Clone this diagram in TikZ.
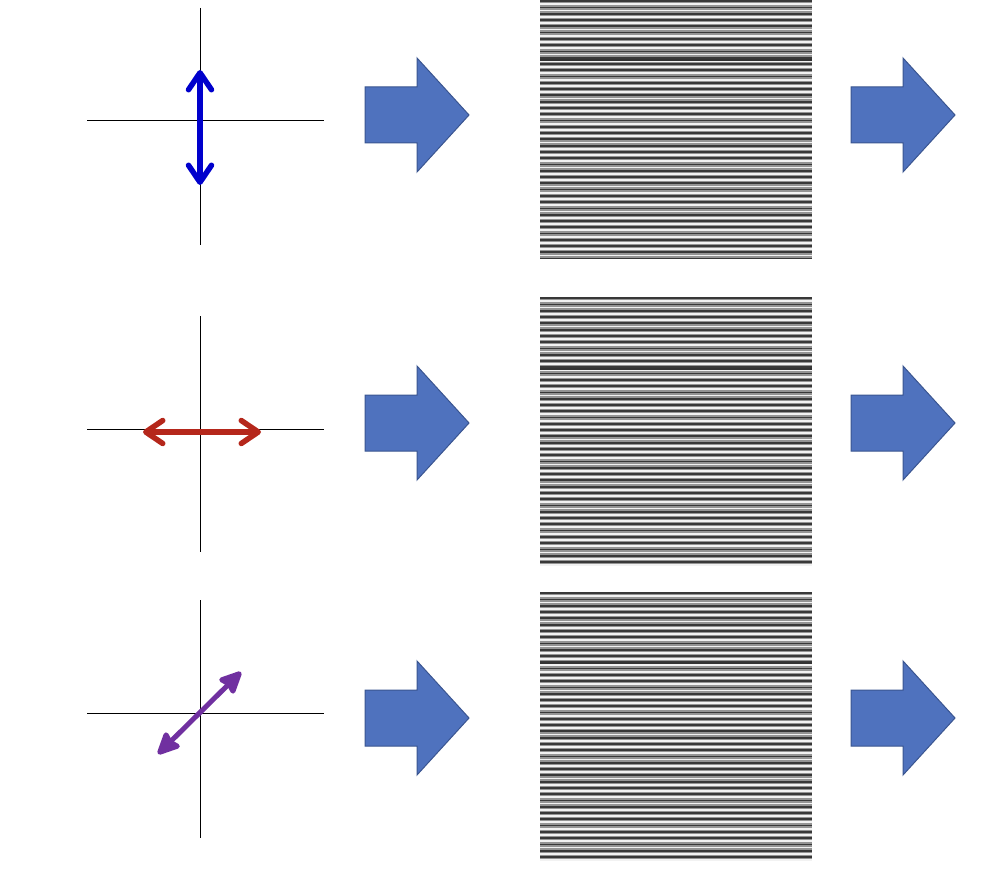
\documentclass[tikz,border=0pt]{standalone}
\usepackage{tikz}
\usetikzlibrary{arrows.meta}
\definecolor{polblue}{HTML}{0000CC}
\definecolor{polred}{HTML}{B5271B}
\definecolor{polpurple}{HTML}{7030A0}
\definecolor{blockfill}{HTML}{4F72BE}
\definecolor{blockedge}{HTML}{3A5590}
\begin{document}
\begin{tikzpicture}[x=1pt,y=-1pt,
    axis/.style={line width=1pt},
    pol/.style={line width=5.5pt, line cap=round},
    openhead/.style={{Straight Barb[length=17pt,width=23pt,round]}-{Straight Barb[length=17pt,width=23pt,round]}},
    fullhead/.style={{Stealth[length=26pt,width=24pt,inset=3pt,round]}-{Stealth[length=26pt,width=24pt,inset=3pt,round]}},
    bigarrow/.style={fill=blockfill, draw=blockedge, line width=1pt},
    darkline/.style={line width=1.8pt, black!78},
    lightline/.style={line width=1.8pt, white!95!black}]
  \useasboundingbox (0,0) rectangle (995,877);
  % axes
  \foreach \i/\hy/\vt/\vb in {1/121/8/245, 2/429/316/552, 3/713/600/838} {
    \coordinate (w\i) at (87,\hy);
    \coordinate (e\i) at (324,\hy);
    \coordinate (n\i) at (200,\vt);
    \coordinate (s\i) at (200,\vb);
    \draw[axis] (w\i) -- (e\i);
    \draw[axis] (n\i) -- (s\i);
  }
  % polarisations
  \coordinate (vtop) at (200,70);
  \coordinate (vbot) at (200,185);
  \coordinate (hleft) at (143,432);
  \coordinate (hright) at (261,432);
  \coordinate (dlow) at (158,754);
  \coordinate (dhigh) at (241,672);
  \draw[pol, polblue, openhead] (vtop) -- (vbot);
  \draw[pol, polred, openhead] (hleft) -- (hright);
  \draw[pol, line width=5pt, polpurple, fullhead] (dlow) -- (dhigh);
  % fringes
  \foreach \ya/\ys/\yb in {0/60/258, 297/369/566, 592/663/861} {
    \begin{scope}
      \clip (540,\ya) rectangle (812,\yb);
      \fill[black!42] (540,\ya) rectangle (812,\yb);
      \foreach \k in {0,...,44} {
        \draw[darkline] (540,\ya+1.2+6.28*\k) -- ++(272,0);
        \draw[lightline] (540,\ya+4.3+6.28*\k) -- ++(272,0);
      }
      \draw[line width=1.5pt, black!80] (540,\ys) -- ++(272,0);
    \end{scope}
  }
  % block arrows
  \foreach \x in {365,851} {
    \foreach \y in {115,423,718} {
      \draw[bigarrow] (\x,\y-28) -- ++(52,0) -- ++(0,-29) -- ++(52,57)
        -- ++(-52,57) -- ++(0,-29) -- ++(-52,0) -- cycle;
    }
  }
\end{tikzpicture}
\end{document}
